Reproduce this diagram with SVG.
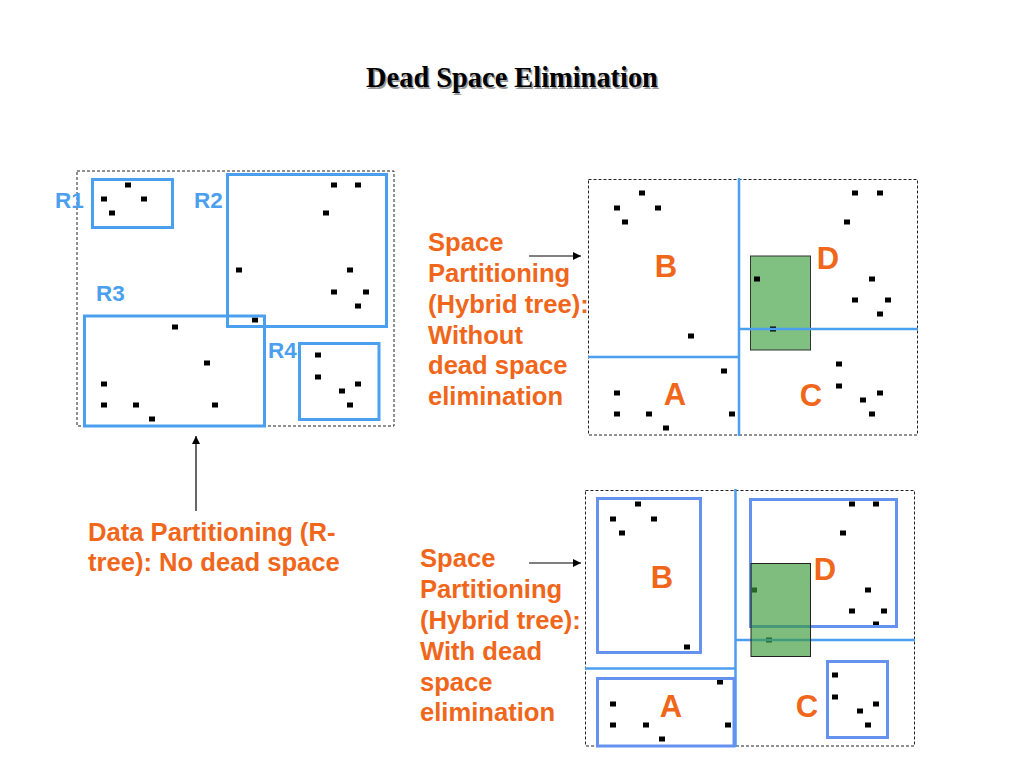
<svg xmlns="http://www.w3.org/2000/svg" width="1024" height="768" viewBox="0 0 1024 768">
<defs>
<style>
.title{font-family:"Liberation Serif","Times New Roman",serif;font-weight:bold;font-size:28.4px}
.lab{font-family:"Liberation Sans",Arial,sans-serif;font-weight:bold;font-size:25.6px;fill:#F0661A}
.big{font-family:"Liberation Sans",Arial,sans-serif;font-weight:bold;font-size:31px;fill:#F0661A;text-anchor:middle}
.rl{font-family:"Liberation Sans",Arial,sans-serif;font-weight:bold;font-size:22.5px;fill:#4B9FEF}
.frame{fill:none;stroke:#222;stroke-width:1;stroke-dasharray:3 2}
.mbr{fill:none;stroke:#4B9FEF;stroke-width:3}
.box2{fill:none;stroke:#6492EE;stroke-width:3}
.split{stroke:#4B9FEF;stroke-width:2.5;fill:none}
.green{fill:#80C080;stroke:#333;stroke-width:1}
.green2{fill:#3A9A3A;fill-opacity:0.65;stroke:#222;stroke-width:1}
.arr{stroke:#000;stroke-width:1.2;fill:none;marker-end:url(#ah)}
</style>
<marker id="ah" viewBox="0 0 10 10" refX="10" refY="5" markerWidth="8" markerHeight="8" markerUnits="userSpaceOnUse" orient="auto">
<path d="M0,0 L10,5 L0,10 Z" fill="#000"/>
</marker>
<rect id="d" x="-3" y="-2.5" width="6" height="5" fill="#000"/>
</defs>
<rect width="1024" height="768" fill="#fff"/>

<g id="title">
<text class="title" x="513.5" y="88.5" text-anchor="middle" fill="#9a9a9a">Dead Space Elimination</text>
<text class="title" x="512" y="87" text-anchor="middle" fill="#000">Dead Space Elimination</text>
</g>

<g id="rtree-panel">
<rect class="frame" x="77" y="171" width="317" height="255"/>
<g id="R1">
<rect class="mbr" x="92.5" y="179.5" width="80" height="48"/>
<use href="#d" x="128" y="185"/><use href="#d" x="104" y="199"/><use href="#d" x="144" y="199"/><use href="#d" x="112" y="213"/>
<text class="rl" x="55" y="208">R1</text>
</g>
<g id="R2">
<use href="#d" x="334" y="185"/><use href="#d" x="358" y="185"/><use href="#d" x="326" y="213"/><use href="#d" x="239" y="270"/><use href="#d" x="350" y="270"/><use href="#d" x="334" y="292"/><use href="#d" x="366" y="292"/><use href="#d" x="358" y="306"/><use href="#d" x="255" y="320"/>
<rect class="mbr" x="227.5" y="174.5" width="159" height="152"/>
<text class="rl" x="194" y="208">R2</text>
</g>
<g id="R3">
<rect class="mbr" x="84.5" y="316" width="180" height="110"/>
<use href="#d" x="175" y="327"/><use href="#d" x="207" y="363"/><use href="#d" x="104" y="384"/><use href="#d" x="104" y="405"/><use href="#d" x="136" y="405"/><use href="#d" x="215" y="405"/><use href="#d" x="152" y="419"/>
<text class="rl" x="96" y="301">R3</text>
</g>
<g id="R4">
<rect class="mbr" x="299.5" y="343.5" width="79.5" height="76"/>
<use href="#d" x="318" y="355"/><use href="#d" x="318" y="377"/><use href="#d" x="358" y="384"/><use href="#d" x="342" y="391"/><use href="#d" x="350" y="405"/>
<text class="rl" x="268" y="358">R4</text>
</g>
</g>

<g id="hybrid-no-dse">
<rect class="frame" x="588.5" y="179.5" width="329" height="255.5"/>
<rect class="green" x="750.5" y="256" width="60" height="94"/>
<use href="#d" x="642" y="193"/><use href="#d" x="617" y="208"/><use href="#d" x="658" y="208"/><use href="#d" x="625" y="222"/><use href="#d" x="691" y="336"/>
<use href="#d" x="724" y="371"/><use href="#d" x="617" y="393"/><use href="#d" x="617" y="414"/><use href="#d" x="649" y="414"/><use href="#d" x="666" y="428"/><use href="#d" x="732" y="414"/>
<use href="#d" x="855" y="193"/><use href="#d" x="880" y="193"/><use href="#d" x="847" y="222"/><use href="#d" x="757" y="279"/><use href="#d" x="872" y="279"/><use href="#d" x="855" y="300"/><use href="#d" x="888" y="300"/><use href="#d" x="880" y="314"/><use href="#d" x="773" y="329"/>
<use href="#d" x="839" y="364"/><use href="#d" x="839" y="386"/><use href="#d" x="880" y="393"/><use href="#d" x="863" y="400"/><use href="#d" x="872" y="414"/>
<line class="split" x1="739" y1="178" x2="739" y2="436"/>
<line class="split" x1="588" y1="357" x2="739" y2="357"/>
<line class="split" x1="739" y1="329" x2="918" y2="329"/>
<text class="big" x="666" y="277">B</text>
<text class="big" x="828" y="269">D</text>
<text class="big" x="675" y="405">A</text>
<text class="big" x="811" y="406">C</text>
</g>

<g id="hybrid-dse">
<rect class="frame" x="585.5" y="490.5" width="329" height="255.5"/>
<use href="#d" x="638" y="504"/><use href="#d" x="613" y="519"/><use href="#d" x="654" y="519"/><use href="#d" x="622" y="533"/><use href="#d" x="687" y="647"/>
<use href="#d" x="720" y="682"/><use href="#d" x="613" y="704"/><use href="#d" x="613" y="725"/><use href="#d" x="646" y="725"/><use href="#d" x="662" y="739"/><use href="#d" x="728" y="725"/>
<use href="#d" x="852" y="504"/><use href="#d" x="876" y="504"/><use href="#d" x="843" y="533"/><use href="#d" x="754" y="590"/><use href="#d" x="868" y="590"/><use href="#d" x="852" y="611"/><use href="#d" x="884" y="611"/><use href="#d" x="876" y="624"/><use href="#d" x="769" y="640"/>
<use href="#d" x="835" y="675"/><use href="#d" x="835" y="697"/><use href="#d" x="876" y="704"/><use href="#d" x="860" y="711"/><use href="#d" x="868" y="725"/>
<line class="split" x1="735.5" y1="489" x2="735.5" y2="747"/>
<line class="split" x1="585" y1="668.5" x2="735.5" y2="668.5"/>
<line class="split" x1="735.5" y1="640" x2="915" y2="640"/>
<rect class="box2" x="597.5" y="498.5" width="103" height="154"/>
<rect class="box2" x="597.5" y="678.5" width="136.5" height="67.5"/>
<rect class="box2" x="750.5" y="499.5" width="146" height="127"/>
<rect class="box2" x="827.5" y="661.5" width="60" height="76"/>
<rect class="green2" x="751" y="563.5" width="59.5" height="93"/>
<text class="big" x="662" y="588">B</text>
<text class="big" x="825" y="580">D</text>
<text class="big" x="671" y="717">A</text>
<text class="big" x="807" y="717">C</text>
</g>

<g id="captions">
<text class="lab"><tspan x="88" y="541">Data Partitioning (R-</tspan><tspan x="88" y="571">tree): No dead space</tspan></text>
<text class="lab"><tspan x="428" y="251">Space</tspan><tspan x="428" y="282">Partitioning</tspan><tspan x="428" y="313">(Hybrid tree):</tspan><tspan x="428" y="344">Without</tspan><tspan x="428" y="374">dead space</tspan><tspan x="428" y="405">elimination</tspan></text>
<text class="lab"><tspan x="420" y="567">Space</tspan><tspan x="420" y="598">Partitioning</tspan><tspan x="420" y="629">(Hybrid tree):</tspan><tspan x="420" y="660">With dead</tspan><tspan x="420" y="691">space</tspan><tspan x="420" y="721">elimination</tspan></text>
</g>

<g id="connectors">
<line class="arr" x1="196" y1="511" x2="196" y2="436"/>
<line class="arr" x1="529" y1="256" x2="581" y2="256"/>
<line class="arr" x1="529" y1="563" x2="581" y2="563"/>
</g>
</svg>
